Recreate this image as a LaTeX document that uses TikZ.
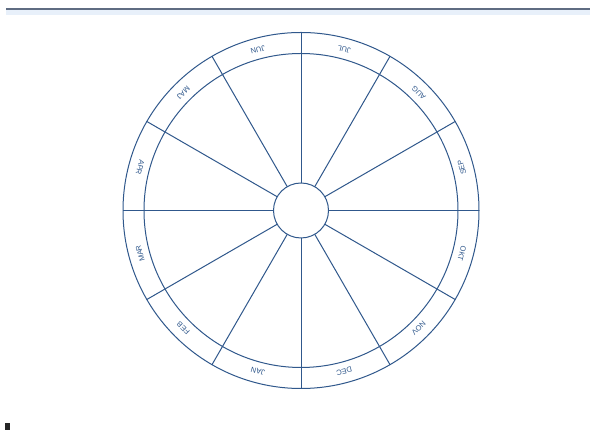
\documentclass[tikz,border=0pt]{standalone}
\usepackage{fontspec}
\setmainfont{Liberation Sans}
\usepackage{xcolor}
\usepackage{tikz}
\usetikzlibrary{positioning}
\definecolor{ink}{RGB}{48,88,140}
\definecolor{edge}{RGB}{95,108,130}
\definecolor{haze}{RGB}{232,240,250}

\begin{document}
\begin{tikzpicture}[x=1pt,y=1pt]
\tikzset{
  ringc/.style={circle,draw=ink,line width=1pt,inner sep=0pt,outer sep=0pt},
  spoke/.style={draw=ink,line width=1pt},
  mon/.style={font=\fontsize{7.5}{8}\selectfont,text=ink,inner sep=0pt}
}
\useasboundingbox (0,0) rectangle (592,430);
\fill[white] (0,0) rectangle (592,430);
% ---- scan edge
\fill[haze] (6,415) rectangle (590,421);
\coordinate (e1) at (6,421);
\coordinate (e2) at (590,421);
\draw[edge,line width=1.2pt] (e1) -- (e2);
\fill[black!85] (5,0) rectangle (10,7);
% ---- wheel
\coordinate (c) at (301,219.5);
\node[ringc,minimum size=356pt] (rim)  at (c) {};
\node[ringc,minimum size=314pt] (band) at (c) {};
\node[ringc,minimum size=55pt]  (hub)  at (c) {};
\foreach \a in {0,30,...,330}
  \draw[spoke] (hub.\a) -- (rim.\a);
% ---- months (upper half turned in, lower half turned out)
\foreach \m/\a in {SEP/15,AUG/45,JUL/75,JUN/105,MAJ/135,APR/165}
  \node[mon,rotate=\a+90] (\m) at ([shift={(\a:166.5)}]c) {\m};
\foreach \m/\a in {MAR/195,FEB/225,JAN/255,DEC/285,NOV/315,OKT/345}
  \node[mon,rotate=\a-90] (\m) at ([shift={(\a:166.5)}]c) {\m};
\end{tikzpicture}
\end{document}
